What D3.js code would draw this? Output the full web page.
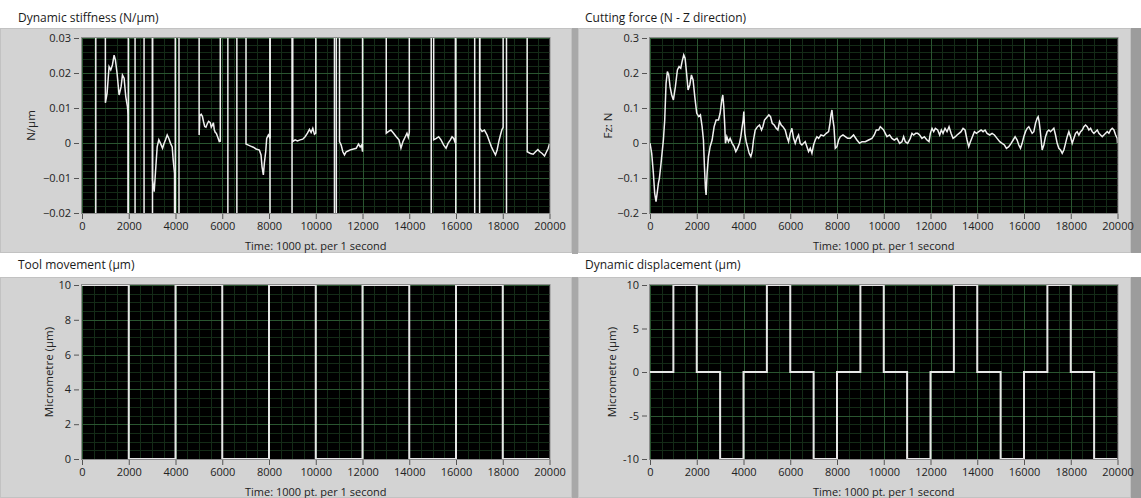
<!DOCTYPE html>
<html><head><meta charset="utf-8">
<script src="https://cdn.jsdelivr.net/npm/d3@7"></script>
<style>
body{margin:0;background:#fff;}
svg{display:block;font-family:"Open Sans","Noto Sans","DejaVu Sans",sans-serif;}
</style>
</head><body>
<svg id="c" width="1141" height="498"></svg>
<script>
// ---------- tick labels ----------
const timeTicks = [0,2000,4000,6000,8000,10000,12000,14000,16000,18000,20000];
const stiffTicks = [-0.02,-0.01,0,0.01,0.02,0.03];
const forceTicks = [-0.2,-0.1,0,0.1,0.2,0.3];
const toolTicks = [0,2,4,6,8,10];
const dispTicks = [-10,-5,0,5,10];

// ---------- series ----------
// Dynamic stiffness: curve segments (values beyond the axis range are off-scale and clipped)
const stiffSegments = [
 [[1000,0.05],[1000,0.0115],[1073,0.0142],[1158,0.0218],[1230,0.0209],[1301,0.0223],[1373,0.0251],[1430,0.0237],[1501,0.0199],[1587,0.0137],[1673,0.0161],[1730,0.0194],[1801,0.0185],[1873,0.0132],[1944,0.0104],[1973,0.008],[1973,-0.05]],
 [[3016,0.05],[3016,-0.0106],[3088,-0.0139],[3159,-0.0068],[3216,-0.0011],[3287,0.0009],[3359,-0.0001],[3445,-0.0015],[3502,-0.0003],[3574,0.0009],[3645,0.0023],[3716,0.0013],[3788,-0.0001],[3859,-0.0011],[3902,-0.0049],[3959,-0.0087],[3959,-0.05]],
 [[5011,0.05],[5011,0.0023],[5040,0.0078],[5097,0.0082],[5150,0.0076],[5202,0.006],[5250,0.0047],[5302,0.0045],[5360,0.0055],[5416,0.0062],[5487,0.0058],[5530,0.0045],[5573,0.005],[5620,0.0058],[5659,0.0038],[5702,0.003],[5745,0.0028],[5802,0.0018],[5873,0.0004],[5916,0.0005],[5916,0.05]],
 [[7016,0.05],[7016,-0.0003],[7116,-0.0006],[7216,-0.0009],[7330,-0.0012],[7445,-0.0017],[7588,-0.002],[7659,-0.0034],[7702,-0.0068],[7759,-0.0091],[7802,-0.0057],[7859,-0.0025],[7902,0.0013],[7973,0.0023],[8045,0.0013],[8045,0.05]],
 [[9017,0.05],[9017,0.0004],[9117,0.0009],[9217,0.0006],[9330,0.0009],[9445,0.0011],[9545,0.0018],[9645,0.0028],[9731,0.0039],[9802,0.003],[9874,0.0042],[9945,0.0025],[10002,0.0028],[10002,0.05]],
 [[11016,0.05],[11016,0.0004],[11087,-0.0006],[11159,-0.0025],[11230,-0.0034],[11302,-0.0025],[11402,-0.0022],[11502,-0.0019],[11616,-0.0017],[11730,-0.0015],[11830,-0.0003],[11902,-0.0011],[11959,-0.0006],[12002,-0.0025],[12002,0.05]],
 [[13016,0.05],[13016,0.0028],[13116,0.0033],[13216,0.0037],[13330,0.0028],[13445,0.0018],[13559,0.0009],[13645,-0.0015],[13731,0.0004],[13830,0.0018],[13902,0.0028],[13959,0.0016],[14002,0.003],[14002,0.05]],
 [[15045,0.05],[15045,0.0009],[15159,0.0013],[15259,0.0018],[15359,0.0009],[15474,-0.0006],[15574,-0.0015],[15659,-0.0001],[15759,0.0009],[15830,0.0018],[15902,0.0013],[15973,-0.0001],[15973,0.05]],
 [[17016,0.05],[17016,0.0042],[17116,0.0033],[17216,0.0037],[17330,0.0023],[17430,0.0004],[17516,-0.0011],[17616,-0.0025],[17688,-0.0034],[17759,-0.002],[17830,0.0004],[17902,0.0023],[17959,0.0037],[18016,0.0045],[18016,0.05]],
 [[19045,0.05],[19045,-0.0025],[19187,-0.003],[19302,-0.0032],[19402,-0.0025],[19502,-0.0019],[19588,-0.0025],[19688,-0.003],[19788,-0.0037],[19874,-0.0025],[19945,-0.0015],[20000,-0.0002]]
];
// times where stiffness jumps between +inf and -inf (full-height lines)
const stiffSpikes = [590,1980,2270,2655,3016,3990,4150,6240,6625,8045,8985,10800,10880,14940,15990,16800,17010,18160];

// Cutting force Fz (N)
const forceData = [
 [0,0],[73,-0.0295],[144,-0.0866],[201,-0.1437],[258,-0.1675],[315,-0.139],[358,-0.1152],[401,-0.101],[458,-0.0676],[515,-0.0295],[572,0.0086],[630,0.0657],
 [687,0.1706],[744,0.2039],[801,0.1944],[858,0.161],[929,0.1373],[1001,0.123],[1086,0.161],[1172,0.2087],[1244,0.2182],[1315,0.2134],[1372,0.2325],[1443,0.2515],[1501,0.242],[1558,0.2039],[1629,0.1516],[1701,0.1658],[1772,0.1944],[1843,0.1801],[1915,0.1325],[2000,0.0849],[2086,0.0754],[2157,0.0802],[2229,0.0468],
 [2286,0.0086],[2329,-0.0676],[2372,-0.1295],[2400,-0.1485],[2443,-0.0866],[2500,-0.039],[2572,-0.0105],[2657,0.0086],[2743,0.0467],[2829,0.0657],
 [2929,0.0659],[3000,0.0849],[3071,0.123],[3114,0.1373],[3157,0.1039],[3200,0.0468],
 [3228,-0.0009],[3286,0.0181],[3357,0.0038],[3428,0.0133],[3514,-0.0009],[3600,-0.0105],[3671,-0.0247],[3743,-0.0152],[3828,-0.0009],[3885,0.0181],[3943,0.0467],[3985,0.0657],[4014,0.0897],
 [4057,0.0276],[4114,0.0038],[4171,-0.0105],[4243,-0.0295],[4314,-0.039],[4371,-0.0247],[4428,0.0086],[4500,0.0371],[4600,0.0467],[4685,0.0514],[4771,0.0371],[4828,0.0467],[4899,0.0657],
 [5085,0.0802],[5156,0.0754],[5228,0.0564],[5313,0.0514],[5399,0.0419],[5471,0.0371],[5542,0.061],[5613,0.0516],[5685,0.0467],[5785,0.0371],[5856,0.0181],[5928,0.0038],[5999,0.0276],[6070,0.0419],[6142,0.0133],[6213,-0.0009],[6285,0.0133],[6356,0.0229],[6427,-0.0009],[6499,-0.0057],[6570,-0.0009],[6641,0.0038],[6713,-0.0105],[6784,-0.0247],[6856,-0.0152],[6927,-0.0295],[6998,-0.0057],[7070,0.0086],[7141,0.0181],[7213,0.0133],[7313,0.0229],[7427,0.02],[7541,0.0276],[7641,0.0324],[7698,0.0562],[7741,0.0802],[7784,0.0944],[7827,0.0659],[7869,0.0467],[7927,-0.0152],[7998,-0.0105],[8070,0.0086],[8141,0.0181],[8255,0.0229],[8355,0.0181],[8455,0.0133],
 [8566,0.0133],[8709,0.0229],[8852,0.0086],[8966,-0.0009],[9066,0.0038],[9209,0.0038],[9351,0.0086],[9494,0.0133],[9594,0.0229],[9680,0.0371],[9780,0.0371],[9851,0.0467],[9923,0.0419],[9994,0.0371],[10065,0.0276],[10137,0.0181],[10251,0.0229],[10351,0.0133],[10451,0.0086],[10565,0.0133],[10679,-0.0009],[10779,0.0038],[10851,0.0181],[10922,0.0038],[11022,-0.0009],[11136,0.0133],[11208,0.0276],[11279,0.0229],[11365,0.0276],[11451,0.0276],[11536,0.0229],[11636,0.0133],[11736,0.0181],[11850,0.0086],[11936,0.0038],[11993,0.0276],[12065,0.0419],[12136,0.0324],[12207,0.0419],[12307,0.0371],[12393,0.0229],[12464,0.0371],[12536,0.0276],[12622,0.0419],[12707,0.0324],[12793,0.0467],[12879,0.0276],[12964,0.0133],[13064,0.0181],[13136,0.0229],[13221,0.0276],[13307,0.0324],[13393,0.0419],[13478,0.0371],[13564,0.0086],[13635,-0.0105],[13707,0.0038],[13792,0.0181],[13878,0.0324],[13964,0.0276],[14064,0.0324],[14164,0.0371],[14249,0.0324],[14335,0.0371],[14421,0.0276],[14535,0.0229],[14635,0.0276],[14735,0.0229],[14849,0.0133],[14963,0.0038],[15063,-0.0009],[15163,-0.0057],[15249,-0.0152],[15349,-0.0105],[15449,-0.0009],[15535,0.0086],[15620,0.0181],[15706,0.0086],[15777,-0.0057],[15849,-0.0152],[15920,-0.0009],[15992,0.0181],[16063,0.0324],[16134,0.0419],[16206,0.0467],[16277,0.0371],[16349,0.0276],[16420,0.0324],[16491,0.0562],[16563,0.0705],[16606,0.075],[16648,0.061],[16691,0.037],[16734,0.0086],[16777,-0.02],[16848,-0.0057],[16920,0.0181],[16991,0.0324],[17063,0.0371],[17134,0.0324],[17205,0.0371],[17277,0.0419],[17348,0.0229],[17420,-0.0009],[17491,-0.0152],[17562,-0.02],[17634,-0.0295],[17705,-0.02],[17777,-0.0009],[17848,0.0181],[17919,0.0324],[17991,0.0181],[18062,-0.0009],[18134,0.0133],[18205,0.0276],[18276,0.0324],[18348,0.0229],[18419,0.0324],[18491,0.0371],[18562,0.0467],[18633,0.0514],[18705,0.0467],[18776,0.0371],[18848,0.0419],[18919,0.0324],[18990,0.0276],[19062,0.0324],[19133,0.0371],[19205,0.0276],[19276,0.0229],[19347,0.0181],[19419,0.0229],[19490,0.0276],[19562,0.0324],[19633,0.0276],[19704,0.0371],[19776,0.0419],[19847,0.0371],[19919,0.0229],[19990,0.0133],[20000,-0.0009]
];

// Tool movement (µm): step changes
const toolTimes  = [0,2000,4000,6000,8000,10000,12000,14000,16000,18000,20000];
const toolValues = [10,0,10,0,10,0,10,0,10,0,0];
// Dynamic displacement (µm): step changes
const dispTimes  = [0,1000,2000,3000,4000,5000,6000,7000,8000,9000,10000,11000,12000,13000,14000,15000,16000,17000,18000,19000,20000];
const dispValues = [0,10,0,-10,0,10,0,-10,0,10,0,-10,0,10,0,-10,0,10,0,-10,-10];

// ---------- drawing ----------
const svg = d3.select("#c");
const fmt2 = d => d === 0 ? "0" : d3.format(".2f")(d);
const fmt1 = d => d === 0 ? "0" : d3.format(".1f")(d);
const fmt0 = d => String(d);

// separators / outer frame shading
svg.append("rect").attr("x",572).attr("y",0).attr("width",6).attr("height",498).attr("fill","#a8a8a8");
svg.append("rect").attr("x",1131).attr("y",28).attr("width",10).attr("height",225).attr("fill","#9c9c9c");
svg.append("rect").attr("x",1131).attr("y",277).attr("width",10).attr("height",221).attr("fill","#9c9c9c");

const panels = [
 {id:"p1", title:"Dynamic stiffness (N/\u00b5m)", fx:0, fy:28, fw:572, fh:225, tx:18, ty:22,
  px:82, py:38, pw:467.5, ph:175, dom:[-0.02,0.03], ticks:stiffTicks, fmt:fmt2, minor:0.002,
  ylab:"N/\u00b5m", ylx:31},
 {id:"p2", title:"Cutting force (N - Z direction)", fx:578, fy:28, fw:553, fh:225, tx:585, ty:22,
  px:650, py:38, pw:467.5, ph:175, dom:[-0.2,0.3], ticks:forceTicks, fmt:fmt1, minor:0.02,
  ylab:"Fz: N", ylx:608},
 {id:"p3", title:"Tool movement (\u00b5m)", fx:0, fy:277, fw:572, fh:221, tx:18, ty:269,
  px:82, py:285, pw:467.5, ph:174, dom:[0,10], ticks:toolTicks, fmt:fmt0, minor:0.5,
  ylab:"Micrometre (\u00b5m)", ylx:49},
 {id:"p4", title:"Dynamic displacement (\u00b5m)", fx:578, fy:277, fw:553, fh:221, tx:585, ty:269,
  px:650, py:285, pw:467.5, ph:174, dom:[-10,10], ticks:dispTicks, fmt:fmt0, minor:1,
  ylab:"Micrometre (\u00b5m)", ylx:612}
];

// white title bands
svg.append("rect").attr("x",0).attr("y",0).attr("width",1141).attr("height",28).attr("fill","#fff");
svg.append("rect").attr("x",0).attr("y",254).attr("width",1141).attr("height",23).attr("fill","#fff");

const defs = svg.append("defs");

panels.forEach(p => {
  svg.append("rect").attr("x",p.fx).attr("y",p.fy).attr("width",p.fw).attr("height",p.fh).attr("fill","#d3d3d3");
  svg.append("rect").attr("x",p.fx+0.5).attr("y",p.fy+0.5).attr("width",p.fw-1).attr("height",p.fh-1)
    .attr("fill","none").attr("stroke","#c2c2c2");
  svg.append("text").attr("x",p.tx).attr("y",p.ty).attr("font-size",12).attr("fill","#1a1a1a").text(p.title);

  const x = d3.scaleLinear().domain([0,20000]).range([p.px, p.px+p.pw]);
  const y = d3.scaleLinear().domain(p.dom).range([p.py+p.ph, p.py]);
  p.x = x; p.y = y;

  svg.append("rect").attr("x",p.px-1).attr("y",p.py-1).attr("width",p.pw+2).attr("height",p.ph+2).attr("fill","#8c8c8c");
  svg.append("rect").attr("x",p.px).attr("y",p.py).attr("width",p.pw).attr("height",p.ph).attr("fill","#000");

  defs.append("clipPath").attr("id","clip-"+p.id).append("rect")
    .attr("x",p.px).attr("y",p.py).attr("width",p.pw).attr("height",p.ph);

  const g = svg.append("g").attr("clip-path","url(#clip-"+p.id+")");

  const minorC = "#142b17", majorC = "#2a5530";
  const xMinor = d3.range(0,20001,500).filter(v => v % 2000 !== 0);
  g.selectAll(null).data(xMinor).enter().append("line")
    .attr("x1",d=>Math.round(x(d))+0.5).attr("x2",d=>Math.round(x(d))+0.5)
    .attr("y1",p.py).attr("y2",p.py+p.ph).attr("stroke",minorC).attr("stroke-width",1);
  const n = Math.round((p.dom[1]-p.dom[0])/p.minor);
  const yMinor = d3.range(0,n+1).map(i => p.dom[0]+i*p.minor)
    .filter(v => !p.ticks.some(t => Math.abs(t-v) < p.minor/10));
  g.selectAll(null).data(yMinor).enter().append("line")
    .attr("x1",p.px).attr("x2",p.px+p.pw)
    .attr("y1",d=>Math.round(y(d))+0.5).attr("y2",d=>Math.round(y(d))+0.5)
    .attr("stroke",minorC).attr("stroke-width",1);
  g.selectAll(null).data(timeTicks).enter().append("line")
    .attr("x1",d=>Math.round(x(d))+0.5).attr("x2",d=>Math.round(x(d))+0.5)
    .attr("y1",p.py).attr("y2",p.py+p.ph).attr("stroke",majorC).attr("stroke-width",1);
  g.selectAll(null).data(p.ticks).enter().append("line")
    .attr("x1",p.px).attr("x2",p.px+p.pw)
    .attr("y1",d=>Math.round(y(d))+0.5).attr("y2",d=>Math.round(y(d))+0.5)
    .attr("stroke",majorC).attr("stroke-width",1);

  const xAxis = d3.axisBottom(x).tickValues(timeTicks).tickSize(5).tickPadding(3).tickFormat(d3.format("d"));
  const xa = svg.append("g").attr("transform",`translate(0,${p.py+p.ph+1})`).call(xAxis);
  xa.select(".domain").remove();
  xa.selectAll("line").attr("stroke","#555");
  xa.selectAll("text").attr("font-size",11).attr("fill","#222").attr("font-family","Open Sans, Noto Sans, sans-serif");

  const yAxis = d3.axisLeft(y).tickValues(p.ticks).tickSize(5).tickPadding(3).tickFormat(p.fmt);
  const ya = svg.append("g").attr("transform",`translate(${p.px-3},0)`).call(yAxis);
  ya.select(".domain").remove();
  ya.selectAll("line").attr("stroke","#555");
  ya.selectAll("text").attr("font-size",11).attr("fill","#222").attr("font-family","Open Sans, Noto Sans, sans-serif");

  svg.append("text").attr("x",p.px+p.pw/2).attr("y",p.py+p.ph+37)
    .attr("text-anchor","middle").attr("font-size",11).attr("fill","#222").text("Time: 1000 pt. per 1 second");
  svg.append("text").attr("transform",`translate(${p.ylx},${p.py+p.ph/2}) rotate(-90)`)
    .attr("text-anchor","middle").attr("dy","0.35em").attr("font-size",11.5).attr("fill","#222").text(p.ylab);

  p.g = g;
});

{
  const p = panels[0];
  const line = d3.line().x(d=>p.x(d[0])).y(d=>p.y(d[1]));
  p.g.selectAll(null).data(stiffSpikes).enter().append("line")
    .attr("x1",d=>p.x(d)).attr("x2",d=>p.x(d)).attr("y1",p.y(-0.05)).attr("y2",p.y(0.05))
    .attr("stroke","#f0f0f0").attr("stroke-width",1.5);
  p.g.selectAll(null).data(stiffSegments).enter().append("path")
    .attr("d",line).attr("fill","none").attr("stroke","#f0f0f0").attr("stroke-width",1.5);
}
{
  const p = panels[1];
  const line = d3.line().x(d=>p.x(d[0])).y(d=>p.y(d[1]));
  p.g.append("path").datum(forceData).attr("d",line).attr("fill","none")
    .attr("stroke","#f0f0f0").attr("stroke-width",1.5);
}
{
  const p = panels[2];
  const pts = toolTimes.map((t,i)=>[t,toolValues[i]]);
  const line = d3.line().x(d=>p.x(d[0])).y(d=>p.y(d[1])).curve(d3.curveStepAfter);
  p.g.append("path").datum(pts).attr("d",line).attr("fill","none")
    .attr("stroke","#e6e6e6").attr("stroke-width",2);
}
{
  const p = panels[3];
  const pts = dispTimes.map((t,i)=>[t,dispValues[i]]);
  const line = d3.line().x(d=>p.x(d[0])).y(d=>p.y(d[1])).curve(d3.curveStepAfter);
  p.g.append("path").datum(pts).attr("d",line).attr("fill","none")
    .attr("stroke","#e6e6e6").attr("stroke-width",2);
}
</script>
</body></html>
